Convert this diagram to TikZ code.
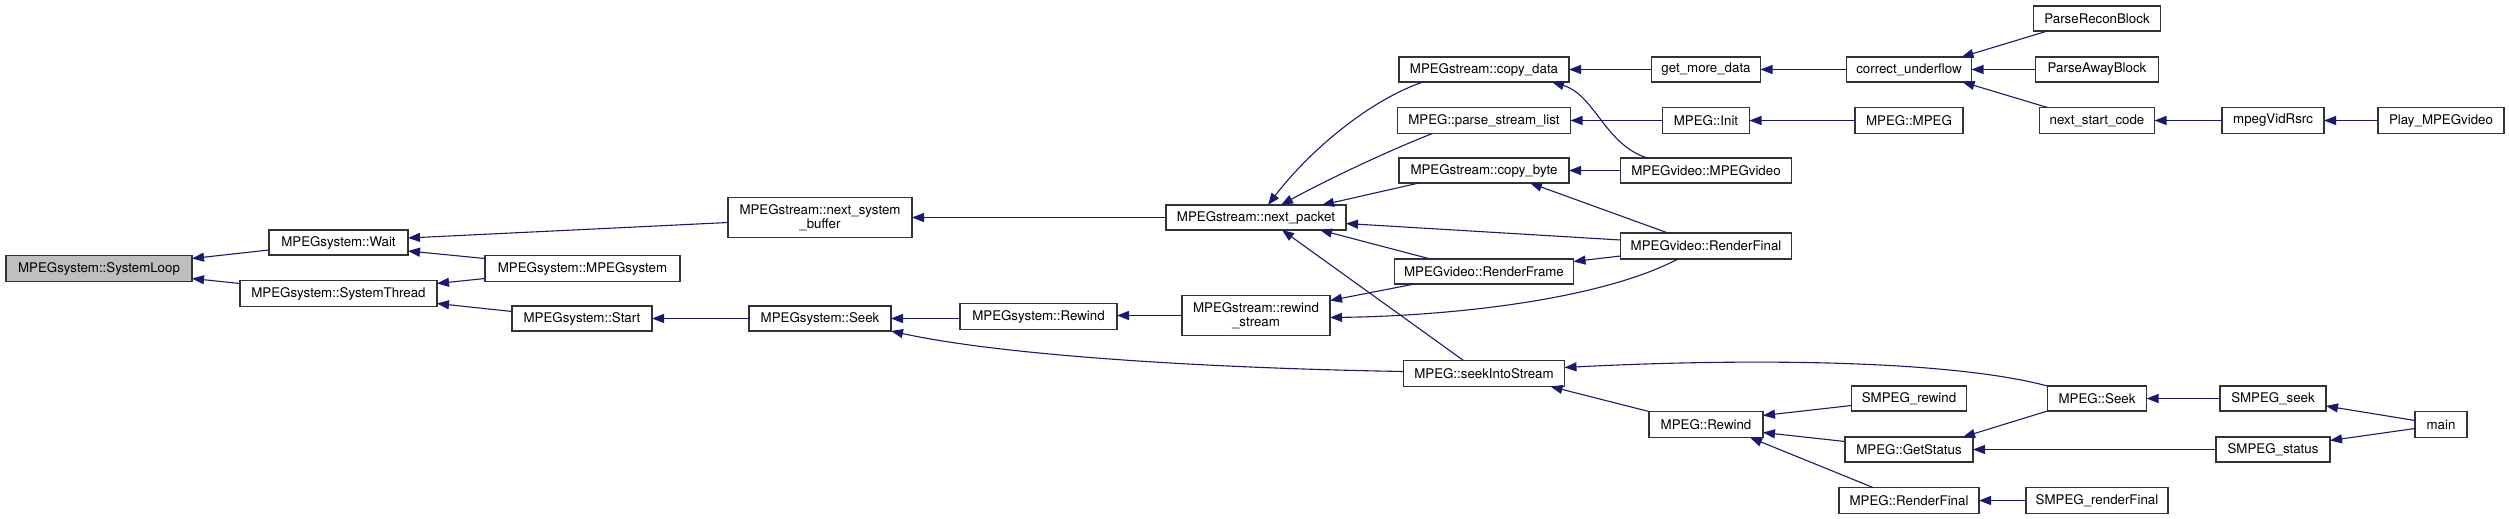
\documentclass[tikz,border=0pt]{standalone}
\usepackage{fontspec}
\setmainfont{TeX Gyre Heros}
\usetikzlibrary{arrows.meta,calc}
\definecolor{edgeblue}{HTML}{191970}
\definecolor{boxgray}{HTML}{BFBFBF}
\tikzset{
  fn/.style={draw=black!80, line width=1.2pt, fill=white, inner sep=0pt, outer sep=0pt,
    align=center, font=\fontsize{13.3}{14.5}\selectfont},
  fnroot/.style={fn, fill=boxgray},
  call/.style={draw=edgeblue, line width=1.1pt, -{Triangle[length=12pt,width=9pt]}},
}
\begin{document}
\begin{tikzpicture}[x=1pt,y=-1pt]
\useasboundingbox (0,0) rectangle (2509,519);
% column 0-2
\node[fnroot, minimum width=186, minimum height=26] (loop) at (99,268.5) {MPEGsystem::SystemLoop};
\node[fn, minimum width=139, minimum height=25] (wait) at (338.5,242.5) {MPEGsystem::Wait};
\node[fn, minimum width=197, minimum height=26] (thread) at (338.5,293.5) {MPEGsystem::SystemThread};
\node[fn, minimum width=195, minimum height=26] (ctor) at (582.5,268.5) {MPEGsystem::MPEGsystem};
\node[fn, minimum width=140, minimum height=25] (start) at (582,318.5) {MPEGsystem::Start};
% column 3-5
\node[fn, minimum width=184, minimum height=40] (nsb) at (820,217.5) {MPEGstream::next\_system\\\_buffer};
\node[fn, minimum width=142, minimum height=25] (sseek) at (820,318.5) {MPEGsystem::Seek};
\node[fn, minimum width=157, minimum height=26] (srew) at (1038.5,316.5) {MPEGsystem::Rewind};
\node[fn, minimum width=180, minimum height=25] (npk) at (1256,217.5) {MPEGstream::next\_packet};
\node[fn, minimum width=148, minimum height=40] (rws) at (1256,315.5) {MPEGstream::rewind\\\_stream};
% column 6
\node[fn, minimum width=170, minimum height=25] (cpd) at (1484,69.5) {MPEGstream::copy\_data};
\node[fn, minimum width=173, minimum height=26] (psl) at (1484,120.5) {MPEG::parse\_stream\_list};
\node[fn, minimum width=170, minimum height=25] (cpb) at (1484,170.5) {MPEGstream::copy\_byte};
\node[fn, minimum width=179, minimum height=25] (rfr) at (1484,271.5) {MPEGvideo::RenderFrame};
\node[fn, minimum width=161, minimum height=26] (sis) at (1484,373.5) {MPEG::seekIntoStream};
% column 7
\node[fn, minimum width=109, minimum height=25] (gmd) at (1706,69.5) {get\_more\_data};
\node[fn, minimum width=87, minimum height=26] (init) at (1706,120.5) {MPEG::Init};
\node[fn, minimum width=171, minimum height=25] (vctor) at (1706,170.5) {MPEGvideo::MPEGvideo};
\node[fn, minimum width=171, minimum height=26] (vrf) at (1706,246) {MPEGvideo::RenderFinal};
\node[fn, minimum width=114, minimum height=26] (mrew) at (1706,424.5) {MPEG::Rewind};
% column 8
\node[fn, minimum width=125, minimum height=25] (cuf) at (1909,69.5) {correct\_underflow};
\node[fn, minimum width=108, minimum height=26] (mctor) at (1909,120.5) {MPEG::MPEG};
\node[fn, minimum width=115, minimum height=25] (srw) at (1909,398.5) {SMPEG\_rewind};
\node[fn, minimum width=128, minimum height=25] (gst) at (1909,449.5) {MPEG::GetStatus};
\node[fn, minimum width=140, minimum height=26] (mrf) at (1909,500.5) {MPEG::RenderFinal};
% column 9
\node[fn, minimum width=127, minimum height=25] (prb) at (2097,18.5) {ParseReconBlock};
\node[fn, minimum width=123, minimum height=25] (pab) at (2097,69.5) {ParseAwayBlock};
\node[fn, minimum width=115, minimum height=26] (nsc) at (2097,120.5) {next\_start\_code};
\node[fn, minimum width=99, minimum height=25] (mseek) at (2097,398.5) {MPEG::Seek};
\node[fn, minimum width=142, minimum height=26] (srf) at (2097,500.5) {SMPEG\_renderFinal};
% column 10-11
\node[fn, minimum width=102, minimum height=26] (mvr) at (2273,120.5) {mpegVidRsrc};
\node[fn, minimum width=106, minimum height=25] (sseektwo) at (2273,398.5) {SMPEG\_seek};
\node[fn, minimum width=114, minimum height=25] (sst) at (2273,449.5) {SMPEG\_status};
\node[fn, minimum width=126, minimum height=26] (play) at (2441,120.5) {Play\_MPEGvideo};
\node[fn, minimum width=52, minimum height=26] (main) at (2441,424.5) {main};

% edges (caller -> callee)
\draw[call] ($(wait.west)+(0,7.5)$) -- ($(loop.east)+(0,-10)$);
\draw[call] ($(thread.west)+(0,-10)$) -- ($(loop.east)+(0,10)$);
\draw[call] ($(nsb.west)+(0,5)$) -- ($(wait.east)+(0,-4.5)$);
\draw[call] ($(ctor.west)+(0,-10)$) -- ($(wait.east)+(0,8.5)$);
\draw[call] ($(ctor.west)+(0,10)$) -- ($(thread.east)+(0,-10)$);
\draw[call] ($(start.west)+(0,-7)$) -- ($(thread.east)+(0,10)$);
\draw[call] (sseek.west) -- (start.east);
\draw[call] (npk.west) -- (nsb.east);
\draw[call] ($(srew.west)+(0,2)$) -- (sseek.east);
\draw[call] ($(sis.west)+(0,-2)$) .. controls (1200,368) and (1000,355) .. (sseek.south east);
\draw[call] (rws.west) -- ($(srew.east)+(0,-1)$);
\draw[call] ($(cpd.south west)+(24,0)$) .. controls (1370,100) and (1310,150) .. ($(npk.north)+(12,0)$);
\draw[call] ($(psl.south west)+(35,0)$) .. controls (1395,148) and (1330,178) .. ($(npk.north)+(25,0)$);
\draw[call] ($(cpb.south west)+(20,0)$) -- ($(npk.north east)+(-24,0)$);
\draw[call] ($(vrf.west)+(0,-6)$) -- ($(npk.east)+(0,6)$);
\draw[call] ($(rfr.north west)+(36,0)$) -- ($(npk.south east)+(-26,0)$);
\draw[call] ($(sis.north west)+(60,0)$) -- ($(npk.south)+(26,0)$);
\draw[call] ($(rfr.south west)+(20,0)$) -- ($(rws.east)+(0,-15)$);
\draw[call] ($(vrf.south)+(-28,0)$) .. controls (1600,300) and (1450,316) .. ($(rws.east)+(0,2)$);
\draw[call] (gmd.west) -- (cpd.east);
\draw[call] ($(vctor.north west)+(27,0)$) .. controls (1605,145) and (1595,95) .. ($(cpd.south east)+(-17,0)$);
\draw[call] (init.west) -- (psl.east);
\draw[call] (mctor.west) -- (init.east);
\draw[call] ($(vrf.north)+(-38,0)$) -- ($(cpb.south)+(46,0)$);
\draw[call] (vctor.west) -- (cpb.east);
\draw[call] ($(vrf.west)+(0,10)$) -- ($(rfr.east)+(0,-10)$);
\draw[call] (cuf.west) -- (gmd.east);
\draw[call] ($(prb.south west)+(14,0)$) -- ($(cuf.north east)+(-10,0)$);
\draw[call] (pab.west) -- (cuf.east);
\draw[call] ($(nsc.north west)+(8,0)$) -- ($(cuf.south east)+(-9,0)$);
\draw[call] (mvr.west) -- (nsc.east);
\draw[call] (play.west) -- (mvr.east);
\draw[call] (mseek.north west) .. controls (1950,360) and (1750,358) .. ($(sis.east)+(0,-6)$);
\draw[call] (mrew.north west) -- ($(sis.south east)+(-14,0)$);
\draw[call] ($(srw.west)+(0,7)$) -- ($(mrew.east)+(0,-9)$);
\draw[call] ($(gst.west)+(0,-8)$) -- ($(mrew.east)+(0,8)$);
\draw[call] ($(mrf.north west)+(34,0)$) -- ($(mrew.south east)+(-13,0)$);
\draw[call] (mseek.south west) -- ($(gst.north east)+(-10,0)$);
\draw[call] (sst.west) -- (gst.east);
\draw[call] (srf.west) -- (mrf.east);
\draw[call] (sseektwo.west) -- (mseek.east);
\draw[call] ($(main.west)+(0,-4)$) -- ($(sseektwo.east)+(0,7.5)$);
\draw[call] ($(main.west)+(0,4)$) -- ($(sst.east)+(0,-9)$);
\end{tikzpicture}
\end{document}
